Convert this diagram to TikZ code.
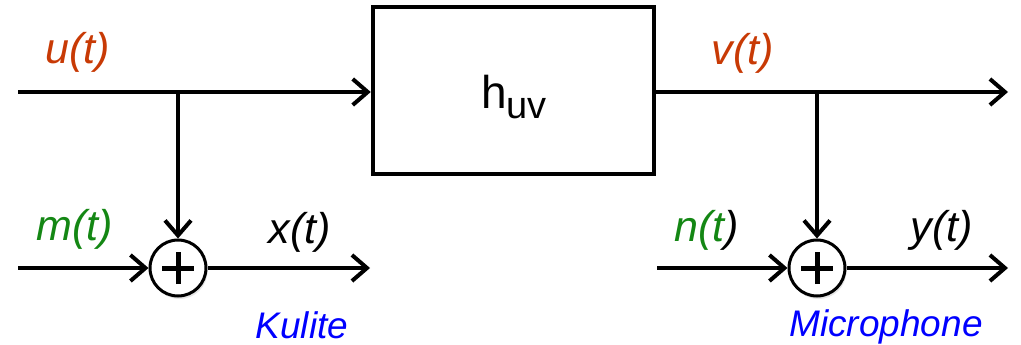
\documentclass[tikz,border=0pt]{standalone}
\usepackage{fontspec}
\setmainfont{Liberation Sans}
\usetikzlibrary{arrows.meta,shadows}
\definecolor{sigred}{RGB}{200,58,5}
\definecolor{siggreen}{RGB}{20,135,20}
\definecolor{sigblue}{RGB}{0,0,255}

\tikzset{
  sig/.style={line width=4pt, -{Straight Barb[length=15pt,width=26pt]}},
  sumnode/.style={circle, draw, line width=3pt, minimum size=56pt, inner sep=0pt, fill=white,
    drop shadow={opacity=0.2, shadow xshift=1.5pt, shadow yshift=-3pt},
    path picture={
      \draw[line width=5pt] ([xshift=-16pt]path picture bounding box.center) -- ([xshift=16pt]path picture bounding box.center);
      \draw[line width=5pt] ([yshift=-16pt]path picture bounding box.center) -- ([yshift=16pt]path picture bounding box.center);
    }},
  lbl/.style={font=\fontsize{43}{46}\selectfont\itshape},
  sensor/.style={font=\fontsize{37}{40}\selectfont\itshape, text=sigblue, anchor=base},
}

\begin{document}
\begin{tikzpicture}[x=1pt,y=-1pt]
    \useasboundingbox (0,0) rectangle (1021,345);

    %system block and summing points
        \node[draw, line width=4.5pt, minimum width=281pt, minimum height=167pt, inner sep=0pt] (box) at (513.5,90.5) {};
        \node[inner sep=0pt] (huv) at (514,97) {\fontsize{46}{50}\selectfont h\raisebox{-10pt}{\fontsize{38}{40}\selectfont uv}};
        \node[sumnode] (sumx) at (178,268) {};
        \node[sumnode] (sumy) at (817,268) {};

    %mark signal ends and junctions
        \coordinate[] (uin) at (18,92);
        \coordinate[] (ju) at (178,92);
        \coordinate[] (min) at (18,268);
        \coordinate[] (xout) at (370,268);
        \coordinate[] (jv) at (817,92);
        \coordinate[] (vout) at (1008,92);
        \coordinate[] (nin) at (657,268);
        \coordinate[] (yout) at (1008,268);

    %draw connectors
        \draw[sig] (uin) -- (uin -| box.west);
        \draw[sig] (ju) -- (sumx);
        \draw[sig] (min) -- (sumx);
        \draw[sig] (sumx) -- (xout);
        \draw[sig] (vout -| box.east) -- (vout);
        \draw[sig] (jv) -- (sumy);
        \draw[sig] (nin) -- (sumy);
        \draw[sig] (sumy) -- (yout);

    %signal labels
        \node[lbl, text=sigred] (ulbl) at (78,52) {u(t)};
        \node[lbl, text=sigred] (vlbl) at (743,53) {v(t)};
        \node[lbl, text=siggreen] (mlbl) at (75,229) {m(t)};
        \node[lbl] (xlbl) at (300,232) {x(t)};
        \node[lbl] (nlbl) at (707,230) {\textcolor{siggreen}{n(t}{)}};
        \node[lbl] (ylbl) at (942,230) {y(t)};
        \node[sensor] (kul) at (302,338) {Kulite};
        \node[sensor] (mic) at (886,336) {Microphone};

\end{tikzpicture}
\end{document}
